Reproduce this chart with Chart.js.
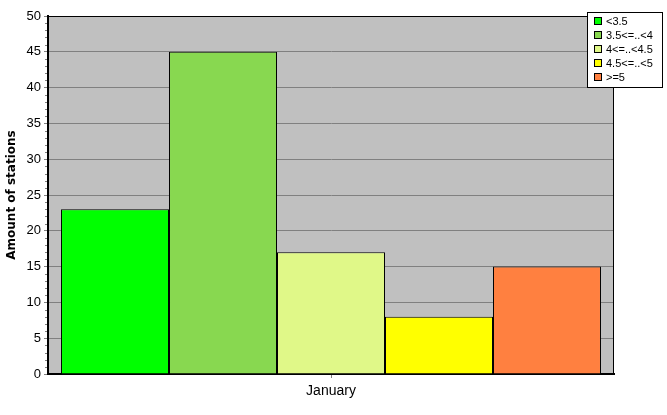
<!DOCTYPE html>
<html>
<head>
<meta charset="utf-8">
<script src="https://cdn.jsdelivr.net/npm/chart.js@4.4.0/dist/chart.umd.min.js"></script>
<style>
    html, body { margin: 0; padding: 0; background: #fff; }
    #wrap { width: 667px; height: 415px; position: relative; }
</style>
</head>
<body>
<div id="wrap"><canvas id="barChart" width="667" height="415"></canvas></div>
<script>
// data
const categories = ['January'];
const seriesLabels = ['<3.5', '3.5<=..<4', '4<=..<4.5', '4.5<=..<5', '>=5'];
const seriesValues = [23, 45, 17, 8, 15];
const seriesColors = ['#00FF00', '#88D850', '#E0F888', '#FFFF00', '#FF8040'];
const yMin = 0, yMax = 50, yStep = 5;

// gray plot background + black frame
const plotFrame = {
    id: 'plotFrame',
    beforeDraw(chart) {
        const { ctx, chartArea: a } = chart;
        ctx.save();
        ctx.fillStyle = '#fff';
        ctx.fillRect(0, 0, chart.width, chart.height);
        ctx.fillStyle = '#C0C0C0';
        ctx.fillRect(a.left, a.top, a.right - a.left, a.bottom - a.top);
        ctx.restore();
    },
    beforeDatasetsDraw(chart) {
        const { ctx, chartArea: a } = chart;
        ctx.save();
        ctx.strokeStyle = '#000';
        ctx.lineWidth = 1;
        ctx.strokeRect(a.left + 0.5, a.top + 0.5, a.right - a.left - 1, a.bottom - a.top);
        ctx.restore();
    }
};

// small ticks every 1 unit on the y axis
const minorTicks = {
    id: 'minorTicks',
    afterDraw(chart) {
        const { ctx } = chart;
        const y = chart.scales.y;
        ctx.save();
        ctx.strokeStyle = '#808080';
        ctx.lineWidth = 1;
        for (let v = yMin + 1; v < yMax; v++) {
            if (v % yStep === 0) continue;
            const py = Math.round(y.getPixelForValue(v)) + 0.5;
            ctx.beginPath();
            ctx.moveTo(y.right - 3, py);
            ctx.lineTo(y.right - 1, py);
            ctx.stroke();
        }
        ctx.restore();
    }
};

// boxed legend in the top right corner
const boxLegend = {
    id: 'boxLegend',
    afterDraw(chart) {
        const { ctx } = chart;
        const x0 = 587, y0 = 12, w = 75, h = 75, rowH = 14;
        ctx.save();
        ctx.fillStyle = '#fff';
        ctx.fillRect(x0, y0, w, h);
        ctx.strokeStyle = '#000';
        ctx.lineWidth = 1;
        ctx.strokeRect(x0 + 0.5, y0 + 0.5, w, h);
        ctx.font = '11px "Liberation Sans", Arial, sans-serif';
        ctx.textBaseline = 'middle';
        chart.data.datasets.forEach((ds, i) => {
            const cy = y0 + 9 + i * rowH;
            ctx.fillStyle = ds.backgroundColor;
            ctx.fillRect(x0 + 7, cy - 4, 8, 8);
            ctx.strokeRect(x0 + 7.5, cy - 3.5, 7, 7);
            ctx.fillStyle = '#000';
            ctx.fillText(ds.label, x0 + 19, cy + 0.5);
        });
        ctx.restore();
    }
};

const ctx = document.getElementById('barChart').getContext('2d');
new Chart(ctx, {
    type: 'bar',
    data: {
        labels: categories,
        datasets: seriesLabels.map((label, i) => ({
            label: label,
            data: [seriesValues[i]],
            backgroundColor: seriesColors[i],
            borderColor: '#000',
            borderWidth: 1,
            categoryPercentage: 0.954,
            barPercentage: 1.0
        }))
    },
    options: {
        responsive: false,
        animation: false,
        layout: { padding: { left: 0, top: 16, right: 53, bottom: 0 } },
        plugins: {
            legend: { display: false },
            tooltip: { enabled: false }
        },
        scales: {
            x: {
                afterFit: (scale) => { scale.height = 41; },
                grid: { display: true, drawOnChartArea: false, offset: false, tickLength: 4, tickColor: '#808080' },
                border: { display: true, color: '#000', width: 2 },
                ticks: { color: '#000', padding: 5, font: { family: '"Liberation Sans", Arial, sans-serif', size: 14 } }
            },
            y: {
                min: yMin,
                max: yMax,
                afterFit: (scale) => { scale.width = 48; },
                ticks: { stepSize: yStep, color: '#000', padding: 3, font: { family: '"Liberation Sans", Arial, sans-serif', size: 13 } },
                grid: {
                    color: (c) => (c.tick && c.tick.value > yMin && c.tick.value < yMax) ? '#808080' : 'rgba(0,0,0,0)',
                    tickColor: '#808080',
                    tickLength: 4
                },
                border: { display: true, color: '#000', width: 2 },
                title: {
                    display: true,
                    text: 'Amount of stations',
                    color: '#000',
                    padding: { top: 5, bottom: 0 },
                    font: { family: '"DejaVu Sans", sans-serif', size: 12, weight: 'bold' }
                }
            }
        }
    },
    plugins: [plotFrame, minorTicks, boxLegend]
});
</script>
</body>
</html>
